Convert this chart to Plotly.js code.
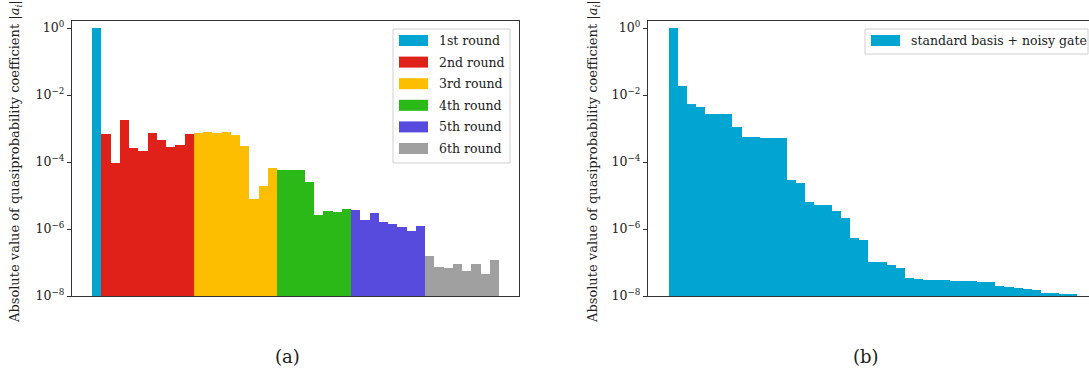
<!DOCTYPE html>
<html>
<head>
<meta charset="utf-8">
<script src="https://cdn.plot.ly/plotly-3.0.1.min.js"></script>
<style>html,body{margin:0;padding:0;background:#fff;}#chart{width:1089px;height:372px;}</style>
</head>
<body>
<div id="chart"></div>
<script>
// ---- Data (a): coefficients per expansion round ----
const roundNames = ["1st round", "2nd round", "3rd round", "4th round", "5th round", "6th round"];
const roundColors = ["#01A5D2", "#DF211A", "#FEBE00", "#2AB917", "#574BDE", "#A0A0A0"];
const round1 = [1.0];
const round2 = [6.9e-4, 9.3e-5, 1.8e-3, 2.6e-4, 2.1e-4, 7.3e-4, 4.5e-4, 2.8e-4, 3.2e-4, 6.9e-4];
const round3 = [7.3e-4, 7.9e-4, 7.3e-4, 7.9e-4, 6.4e-4, 3.0e-4, 7.9e-6, 1.9e-5, 6.6e-5];
const round4 = [5.8e-5, 5.8e-5, 5.8e-5, 2.5e-5, 2.6e-6, 3.45e-6, 3.2e-6, 3.95e-6];
const round5 = [3.7e-6, 1.86e-6, 3.0e-6, 1.62e-6, 1.41e-6, 1.15e-6, 8.7e-7, 1.23e-6];
const round6 = [1.56e-7, 7.3e-8, 6.85e-8, 9.0e-8, 5.6e-8, 9.0e-8, 4.5e-8, 1.19e-7];
const rounds = [round1, round2, round3, round4, round5, round6];

// ---- Data (b): standard basis + noisy gate ----
const basisName = "standard basis + noisy gate";
const basisColor = "#01A5D2";
const basisValues = [1.0, 1.86e-2, 5.4e-3, 4.4e-3, 2.7e-3, 2.7e-3, 2.7e-3, 1.11e-3, 5.6e-4, 5.6e-4,
  5.2e-4, 5.2e-4, 5.2e-4, 2.9e-5, 2.36e-5, 6.4e-6, 5.2e-6, 5.2e-6, 3.45e-6, 2.13e-6,
  5.4e-7, 4.7e-7, 1.03e-7, 1.03e-7, 8.4e-8, 6.85e-8, 3.45e-8, 3.2e-8, 3.0e-8, 3.0e-8,
  3.0e-8, 2.8e-8, 2.8e-8, 2.8e-8, 2.6e-8, 2.6e-8, 2.0e-8, 1.86e-8, 1.74e-8, 1.62e-8,
  1.51e-8, 1.23e-8, 1.23e-8, 1.15e-8, 1.15e-8];

const yTickVals = [1e-8, 1e-6, 1e-4, 1e-2, 1];
const yTickText = ["10<sup>−8</sup>", "10<sup>−6</sup>", "10<sup>−4</sup>", "10<sup>−2</sup>", "10<sup>0</sup>"];
const yTitle = "Absolute value of quasiprobability coefficient |<i>a<sub>i</sub></i>|";
const panelLabels = ["(a)", "(b)"];

const FONT = "DejaVu Serif, Liberation Serif, serif";
const W = 1089, H = 372, T = 21, B = 296;
const px = v => v / W;                 // paper x from pixel (no side margins)
const py = v => (B - v) / (B - T);     // paper y from pixel (plot area 21..296)

const traces = [];
let offset = 0;
rounds.forEach((vals, k) => {
  traces.push({
    type: "bar", name: roundNames[k],
    x: vals.map((_, i) => offset + i), y: vals,
    marker: {color: roundColors[k], line: {width: 0}},
    width: 1, xaxis: "x", yaxis: "y", showlegend: false
  });
  offset += vals.length;
});
traces.push({
  type: "bar", name: basisName,
  x: basisValues.map((_, i) => i), y: basisValues,
  marker: {color: basisColor, line: {width: 0}},
  width: 1, xaxis: "x2", yaxis: "y2", showlegend: false
});

const nA = offset, nB = basisValues.length;
const axisLine = "#333333";
const yCommon = {
  type: "log", range: [-8, 0.209], tickvals: yTickVals, ticktext: yTickText,
  ticks: "outside", ticklen: 4, tickwidth: 1, tickcolor: axisLine,
  showline: true, linecolor: axisLine, linewidth: 1.2, showgrid: false, zeroline: false,
  tickfont: {family: FONT, size: 12.5, color: "#222"}
};
const xCommon = {
  showline: true, linecolor: axisLine, linewidth: 1.2, showgrid: false, zeroline: false,
  showticklabels: false, ticks: "", tickmode: "array", tickvals: [], mirror: true
};

const shapes = [], annotations = [];
// custom legends (matplotlib-style wide swatches)
function legendBox(x0, y0, x1, y1) {
  shapes.push({type: "rect", xref: "paper", yref: "paper", x0: px(x0), x1: px(x1), y0: py(y1), y1: py(y0),
    line: {color: "#D0D0D0", width: 1}, fillcolor: "rgba(255,255,255,0.85)", layer: "above"});
}
function legendItem(sx, cy, color, text, tx) {
  shapes.push({type: "rect", xref: "paper", yref: "paper", x0: px(sx), x1: px(sx + 29), y0: py(cy + 5.5), y1: py(cy - 5.5),
    line: {width: 0}, fillcolor: color, layer: "above"});
  annotations.push({xref: "paper", yref: "paper", x: px(tx), y: py(cy), xanchor: "left", yanchor: "middle",
    text: text, showarrow: false, font: {family: FONT, size: 12.5, color: "#222"}});
}
legendBox(393, 29, 510, 163);
roundNames.forEach((n, k) => legendItem(399, 40.5 + k * 21.6, roundColors[k], n, 437));
legendBox(865, 29, 1088, 54);
legendItem(871, 40.5, basisColor, basisName, 909);

// y-axis titles
[15, 593].forEach(xp => annotations.push({xref: "paper", yref: "paper", x: px(xp), y: py(162), textangle: -90,
  xanchor: "center", yanchor: "middle", text: yTitle, showarrow: false, font: {family: FONT, size: 13, color: "#222"}}));
// panel labels
[[287, panelLabels[0]], [866, panelLabels[1]]].forEach(([xp, t]) => annotations.push({xref: "paper", yref: "paper",
  x: px(xp), y: py(356), xanchor: "center", yanchor: "middle", text: t, showarrow: false,
  font: {family: FONT, size: 18, color: "#222"}}));

const layout = {
  width: W, height: H, margin: {l: 0, r: 0, t: T, b: H - B, pad: 0},
  paper_bgcolor: "#fff", plot_bgcolor: "#fff", bargap: 0, barmode: "overlay",
  showlegend: false, font: {family: FONT},
  xaxis: Object.assign({}, xCommon, {domain: [px(72), px(519)], range: [-0.5 - 20 / 9.25, nA - 0.5 + 20 / 9.25], anchor: "y"}),
  yaxis: Object.assign({}, yCommon, {mirror: true, anchor: "x"}),
  xaxis2: Object.assign({}, xCommon, {domain: [px(648), 1], range: [-0.5 - 21 / 9.067, nB - 0.5 + 12 / 9.067], anchor: "y2"}),
  yaxis2: Object.assign({}, yCommon, {mirror: false, anchor: "x2"}),
  shapes: shapes, annotations: annotations
};
Plotly.newPlot("chart", traces, layout, {staticPlot: true, displayModeBar: false});
</script>
</body>
</html>
